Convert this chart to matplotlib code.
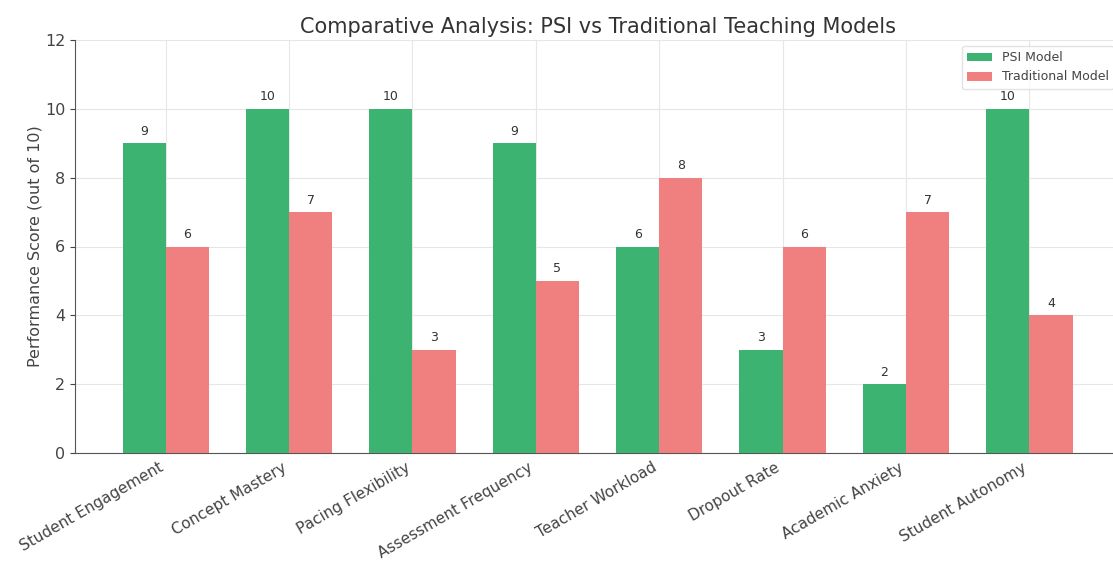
import matplotlib
matplotlib.use("Agg")
import matplotlib.pyplot as plt
import numpy as np

categories = ["Student Engagement", "Concept Mastery", "Pacing Flexibility",
              "Assessment Frequency", "Teacher Workload", "Dropout Rate",
              "Academic Anxiety", "Student Autonomy"]
psi_scores = [9, 10, 10, 9, 6, 3, 2, 10]
traditional_scores = [6, 7, 3, 5, 8, 6, 7, 4]

fig = plt.figure(figsize=(11.13, 5.61), dpi=100)
ax = fig.add_axes([75 / 1113, 108 / 561, 1045 / 1113, 413 / 561])

x = np.arange(len(categories))
width = 0.35
b1 = ax.bar(x - width / 2, psi_scores, width, color="#3cb371", label="PSI Model", zorder=3)
b2 = ax.bar(x + width / 2, traditional_scores, width, color="#f08080", label="Traditional Model", zorder=3)

for bars in (b1, b2):
    for rect in bars:
        h = rect.get_height()
        ax.annotate(f"{h:g}", (rect.get_x() + rect.get_width() / 2, h),
                    xytext=(0, 4), textcoords="offset points",
                    ha="center", va="bottom", fontsize=9, color="#333333")

ax.set_ylim(0, 12)
ax.set_yticks(range(0, 13, 2))
ax.set_xticks(x)
ax.set_xticklabels(categories, rotation=30, ha="right", fontsize=11, color="#444444")
ax.tick_params(axis="x", length=0, pad=5)
ax.tick_params(axis="y", labelsize=11.5, colors="#444444")
ax.set_ylabel("Performance Score (out of 10)", fontsize=11.5, color="#444444", labelpad=2)
ax.set_title("Comparative Analysis: PSI vs Traditional Teaching Models", fontsize=15, color="#333333", pad=5)

ax.grid(True, color="#e6e6e6", linewidth=0.8, zorder=0)
for side in ("top", "right"):
    ax.spines[side].set_visible(False)
for side in ("left", "bottom"):
    ax.spines[side].set_color("#555555")

ax.legend(loc="upper right", fontsize=9, frameon=True, edgecolor="#dddddd", labelcolor="#444444")

fig.savefig("out.png", dpi=100)
